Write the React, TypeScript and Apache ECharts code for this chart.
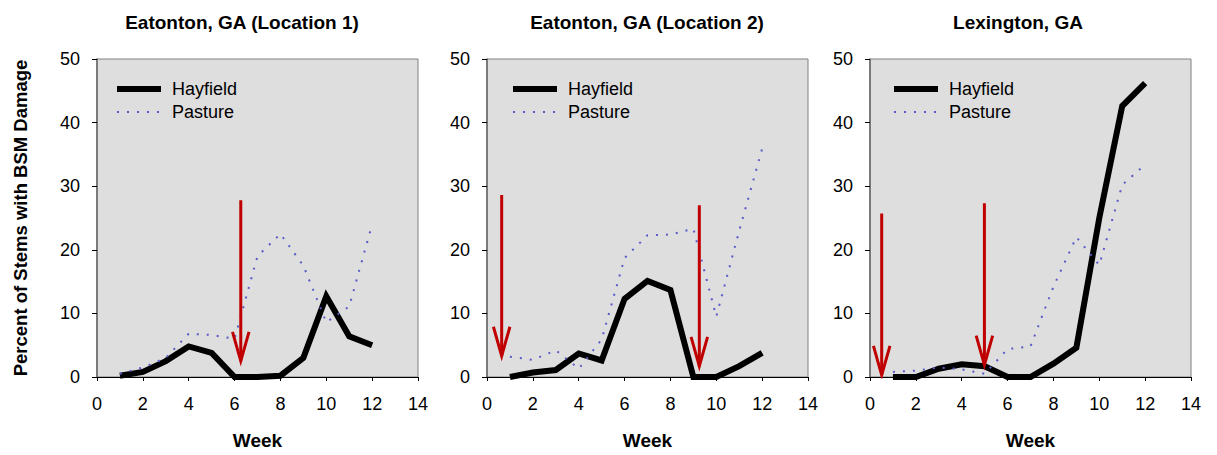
import React, { useEffect, useRef } from "react";
import * as echarts from "echarts";

const weeks = [1, 2, 3, 4, 5, 6, 7, 8, 9, 10, 11, 12];

const titles = ["Eatonton, GA (Location 1)", "Eatonton, GA (Location 2)", "Lexington, GA"];
const seriesNames = ["Hayfield", "Pasture"];

const hayfield1 = [0.2, 0.8, 2.5, 4.8, 3.8, 0, 0, 0.2, 3.0, 12.7, 6.4, 5.0];
const pasture1 = [0.5, 1.5, 3.0, 6.8, 6.6, 6.0, 19.0, 22.5, 17.5, 8.6, 11.1, 24.0];

const hayfield2 = [0, 0.7, 1.1, 3.7, 2.6, 12.3, 15.1, 13.7, 0, 0, 1.7, 3.8];
const pasture2 = [3.2, 2.7, 4.2, 1.3, 5.9, 18.7, 22.3, 22.4, 23.3, 9.5, 23.0, 35.9];

const hayfield3 = [0, 0, 1.3, 2.0, 1.7, 0, 0, 2.1, 4.6, 25.0, 42.6, 46.2];
const pasture3 = [0.8, 1.0, 1.5, 1.2, 0.5, 4.4, 4.8, 14.2, 22.0, 17.6, 30.2, 33.4];

// arrows: week position, top value, tip value
const arrowWeeks1 = [6.27];
const arrowTops1 = [27.8];
const arrowTips1 = [2.5];

const arrowWeeks2 = [0.64, 9.26];
const arrowTops2 = [28.6, 27.0];
const arrowTips2 = [3.3, 1.7];

const arrowWeeks3 = [0.51, 4.99];
const arrowTops3 = [25.7, 27.3];
const arrowTips3 = [0.3, 1.9];

const FONT = "'Liberation Sans', Arial, Helvetica, sans-serif";
const PASTURE_COLOR = "#5a5ac8";
const ARROW_COLOR = "#c00000";
const HEAD_HALF_W = 0.36;
const HEAD_H = 4.6;

const panels = [
  { left: 97, titleX: 242, legendLeft: 114, hay: hayfield1, past: pasture1, aw: arrowWeeks1, at: arrowTops1, ap: arrowTips1 },
  { left: 487, titleX: 647, legendLeft: 510, hay: hayfield2, past: pasture2, aw: arrowWeeks2, at: arrowTops2, ap: arrowTips2 },
  { left: 870, titleX: 1018, legendLeft: 891, hay: hayfield3, past: pasture3, aw: arrowWeeks3, at: arrowTops3, ap: arrowTips3 },
];

const PLOT_W = 321;
const PLOT_TOP = 59;
const PLOT_BOTTOM = 382;

function buildOption() {
  const grid: any[] = [];
  const xAxis: any[] = [];
  const yAxis: any[] = [];
  const series: any[] = [];
  const legend: any[] = [];
  const graphic: any[] = [];

  panels.forEach((p, i) => {
    grid.push({
      left: p.left,
      top: PLOT_TOP,
      width: PLOT_W,
      height: PLOT_BOTTOM - PLOT_TOP,
      show: true,
      backgroundColor: "#dedede",
      borderColor: "#808080",
      borderWidth: 1,
    });
    xAxis.push({
      type: "value",
      gridIndex: i,
      min: 0,
      max: 14,
      interval: 2,
      name: "Week",
      nameLocation: "middle",
      nameGap: 54,
      nameTextStyle: { fontSize: 19, fontWeight: "bold", color: "#000", fontFamily: FONT },
      axisLine: { show: true, onZero: false, lineStyle: { color: "#000", width: 1 } },
      axisTick: { show: true, inside: false, length: 4, lineStyle: { color: "#000" } },
      axisLabel: { fontSize: 18, color: "#000", fontFamily: FONT, margin: 18 },
      splitLine: { show: false },
    });
    yAxis.push({
      type: "value",
      gridIndex: i,
      min: 0,
      max: 50,
      interval: 10,
      axisLine: { show: true, lineStyle: { color: "#666", width: 1.5 } },
      axisTick: { show: true, inside: false, length: 5, lineStyle: { color: "#000" } },
      axisLabel: { fontSize: 18, color: "#000", fontFamily: FONT, margin: 17 },
      splitLine: { show: false },
    });
    series.push({
      type: "line",
      name: seriesNames[0],
      xAxisIndex: i,
      yAxisIndex: i,
      data: weeks.map((w, k) => [w, p.hay[k]]),
      symbol: "none",
      lineStyle: { color: "#000", width: 6, join: "miter" },
      itemStyle: { color: "#000" },
      z: 2,
    });
    series.push({
      type: "line",
      name: seriesNames[1],
      xAxisIndex: i,
      yAxisIndex: i,
      data: weeks.map((w, k) => [w, p.past[k]]),
      symbol: "none",
      lineStyle: { color: PASTURE_COLOR, width: 2, type: [2, 8] },
      itemStyle: { color: PASTURE_COLOR },
      z: 3,
    });
    p.aw.forEach((w, k) => {
      series.push({
        type: "line",
        name: "arrow",
        xAxisIndex: i,
        yAxisIndex: i,
        data: [
          [w, p.at[k]],
          [w, p.ap[k]],
        ],
        symbol: "none",
        silent: true,
        lineStyle: { color: ARROW_COLOR, width: 3 },
        z: 4,
      });
      series.push({
        type: "line",
        name: "arrowhead",
        xAxisIndex: i,
        yAxisIndex: i,
        data: [
          [w - HEAD_HALF_W, p.ap[k] + HEAD_H],
          [w, p.ap[k]],
          [w + HEAD_HALF_W, p.ap[k] + HEAD_H],
        ],
        symbol: "none",
        silent: true,
        lineStyle: { color: ARROW_COLOR, width: 3, join: "miter" },
        z: 4,
      });
    });
    legend.push({
      orient: "vertical",
      left: p.legendLeft,
      top: 80,
      padding: 0,
      itemWidth: 44,
      itemHeight: 14,
      itemGap: 5,
      selectedMode: false,
      textStyle: { fontSize: 18, color: "#000", fontFamily: FONT, lineHeight: 18, padding: [0, 0, 0, 6] },
      data: [
        {
          name: seriesNames[0],
          itemStyle: { opacity: 0 },
          lineStyle: { color: "#000", width: 6, type: "solid" },
        },
        {
          name: seriesNames[1],
          itemStyle: { opacity: 0 },
          lineStyle: { color: PASTURE_COLOR, width: 2, type: [2, 8] },
        },
      ],
    });
    graphic.push({
      type: "text",
      x: p.titleX,
      y: 22,
      style: {
        text: titles[i],
        fontSize: 19,
        fontWeight: "bold",
        fontFamily: FONT,
        fill: "#000",
        align: "center",
        verticalAlign: "middle",
      },
    });
  });

  graphic.push({
    type: "text",
    x: 20,
    y: 218,
    rotation: Math.PI / 2,
    style: {
      text: "Percent of Stems with BSM Damage",
      fontSize: 18.5,
      fontWeight: "bold",
      fontFamily: FONT,
      fill: "#000",
      align: "center",
      verticalAlign: "middle",
    },
  });

  return {
    animation: false,
    backgroundColor: "#ffffff",
    grid,
    xAxis,
    yAxis,
    series,
    legend,
    graphic,
  };
}

export default function App() {
  const ref = useRef<HTMLDivElement>(null);
  useEffect(() => {
    if (!ref.current) return;
    const chart = echarts.init(ref.current, null, { renderer: "svg" });
    chart.setOption(buildOption() as any);
    return () => chart.dispose();
  }, []);
  return (
    <div
      ref={ref}
      style={{ position: "absolute", left: 0, top: 0, width: 1217, height: 455 }}
    />
  );
}
